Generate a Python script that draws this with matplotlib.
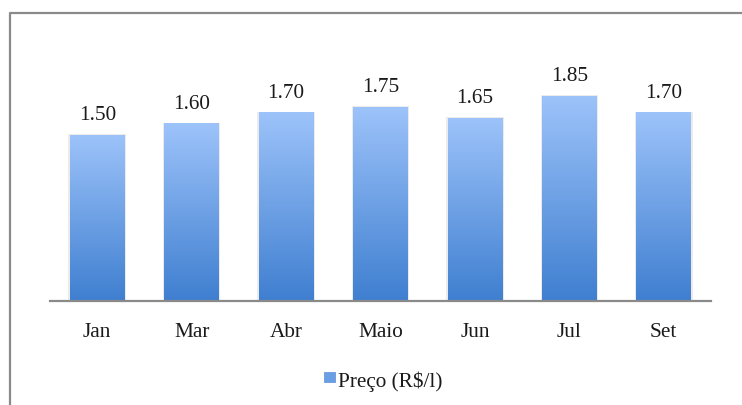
import numpy as np
import matplotlib
matplotlib.use("Agg")
import matplotlib.pyplot as plt
from matplotlib.colors import LinearSegmentedColormap
from matplotlib.lines import Line2D
from matplotlib.patches import Rectangle

months = ["Jan", "Mar", "Abr", "Maio", "Jun", "Jul", "Set"]
prices = [1.50, 1.60, 1.70, 1.75, 1.65, 1.85, 1.70]
series_label = "Preço (R$/l)"

FONT = ["Liberation Serif", "DejaVu Serif"]
plt.rcParams["font.family"] = FONT
FS = 15.3

W, H = 742, 406
fig = plt.figure(figsize=(W / 100, H / 100), dpi=100)
fig.patch.set_facecolor("white")

# axes box in pixel units
ax_left, ax_right = 50, 711
ax_bottom, ax_top = 302, 80
ax = fig.add_axes([ax_left / W, 1 - ax_bottom / H,
                   (ax_right - ax_left) / W, (ax_bottom - ax_top) / H])
ax.set_xlim(-0.5, len(months) - 0.5)
ax.set_ylim(0, 2.0)
ax.set_facecolor("none")
for s in ["top", "right", "left"]:
    ax.spines[s].set_visible(False)
ax.spines["bottom"].set_color("#8a8a8a")
ax.spines["bottom"].set_linewidth(1.6)
ax.set_yticks([])
ax.set_xticks(range(len(months)))
ax.set_xticklabels(months, fontsize=FS, color="#1a1a1a")
ax.tick_params(axis="x", length=0, pad=15)

cmap = LinearSegmentedColormap.from_list("barfill", ["#3f7fd0", "#9dc3fa"])
grad = np.linspace(0, 1, 256).reshape(-1, 1)
width = 0.58

bars = ax.bar(range(len(months)), prices, width=width, color="none",
              edgecolor="none", zorder=2)
for i, (b, v) in enumerate(zip(bars, prices)):
    x0 = b.get_x()
    # soft shadow at the sides
    ax.add_patch(Rectangle((x0 - 0.015, 0), width + 0.03, v + 0.005,
                           facecolor="#d8d8d8", edgecolor="none",
                           alpha=0.5, zorder=1))
    im = ax.imshow(grad, cmap=cmap, aspect="auto", origin="lower",
                   extent=[x0, x0 + width, 0, v], zorder=2,
                   interpolation="bicubic")
    im.set_clip_path(b)
    ax.text(i, v + 0.095, f"{v:.2f}", ha="center", va="bottom",
            fontsize=FS, color="#1a1a1a")

# legend swatch and label
fig.patches.append(Rectangle((324 / W, 1 - 383 / H), 11 / W, 10 / H,
                             transform=fig.transFigure,
                             facecolor="#6a9fe6", edgecolor="#5a8fd8",
                             linewidth=0.5))
fig.text(338 / W, 1 - 382 / H, series_label, ha="left", va="center",
         fontsize=FS, color="#1a1a1a")

# chart frame (left and top edges)
frame = Line2D([10 / W, 10 / W, 1.0], [0.0, 1 - 14 / H, 1 - 14 / H],
               transform=fig.transFigure, color="#8a8a8a", linewidth=1.6)
fig.lines.append(frame)

fig.savefig("out.png", dpi=100, facecolor="white")
